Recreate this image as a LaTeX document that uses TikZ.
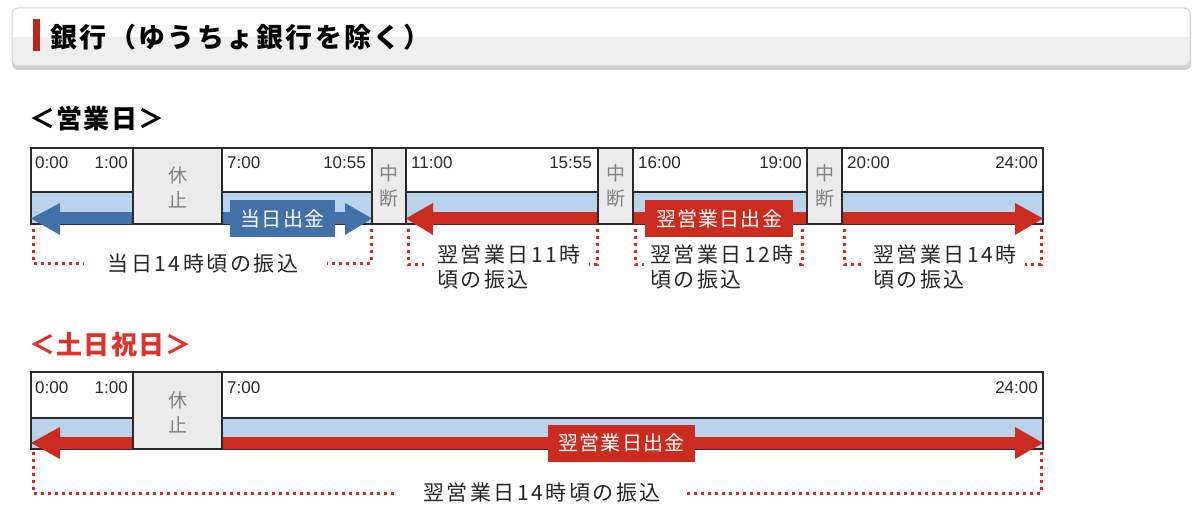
\documentclass[tikz,border=0pt]{standalone}
\usepackage{fontspec}
\setmainfont{Liberation Sans}
\newfontfamily\jp{Noto Sans CJK JP}
\newfontfamily\jpnote[LetterSpace=12]{Noto Sans CJK JP}
\newfontfamily\jplab[LetterSpace=6]{Noto Sans CJK JP}
\newfontfamily\jptitle[LetterSpace=9]{Noto Sans CJK JP}
\newfontfamily\jphead[LetterSpace=5]{Noto Sans CJK JP}
\definecolor{grayfill}{HTML}{EBEBEB}
\definecolor{bandblue}{HTML}{B8D3EB}
\definecolor{arrblue}{HTML}{4270A8}
\definecolor{arrred}{HTML}{CC2B1F}
\definecolor{dotred}{HTML}{D42A24}
\definecolor{headred}{HTML}{E0322A}
\definecolor{gridc}{HTML}{2A2A2A}
\definecolor{graytext}{HTML}{808080}
\begin{document}
\begin{tikzpicture}[x=1pt,y=-1pt,
  gridline/.style={draw=gridc,line width=1.3pt},
  gbox/.style={fill=grayfill,draw=gridc,line width=1.3pt},
  tm/.style={font=\fontsize{17}{17}\selectfont,inner sep=0pt,text=gridc},
  vlab/.style={font=\jp\fontsize{19}{25}\selectfont,text=graytext,align=center,inner sep=0pt},
  dots/.style={draw=dotred,line width=3pt,dash pattern=on 3pt off 4pt},
  note/.style={font=\jpnote\fontsize{21}{25}\selectfont,inner sep=0pt,text=black!85,align=left},
  lab/.style={font=\jplab\fontsize{20}{20}\selectfont,text=white,inner sep=0pt},
  sechead/.style={font=\jphead\bfseries\fontsize{26}{26}\selectfont,inner sep=0pt,anchor=west}]
\useasboundingbox (0,0) rectangle (1200,511);
\fill[white] (0,0) rectangle (1200,511);

% ---------- header box ----------
\fill[black!18,rounded corners=6pt] (12,11) rectangle (1191,70);
\fill[grayfill!80,rounded corners=6pt] (12,8) rectangle (1190,66);
\begin{scope}
  \clip[rounded corners=6pt] (12,8) rectangle (1190,66);
  \fill[white] (12,8) rectangle (1190,37);
\end{scope}
\draw[black!18,line width=1pt,rounded corners=6pt] (12,8) rectangle (1190,66);
\fill[arrred!90!black] (33,19) rectangle (40,51);
\node[font=\jptitle\bfseries\fontsize{27}{27}\selectfont,inner sep=0pt,anchor=west] (title) at (50,37) {銀行（ゆうちょ銀行を除く）};

% ---------- business day ----------
\node[sechead] (h1) at (29,119) {＜営業日＞};

\fill[white] (31,148) rectangle (1043,192);
\fill[bandblue] (31,192) rectangle (1043,224);
\draw[gridline] (31,148) rectangle (1043,224);
\draw[gridline] (31,192) -- (1043,192);

\fill[arrblue] (31,218.5) -- (60,203) -- (60,212) -- (345,212) -- (345,203) -- (372,218.5) -- (345,235) -- (345,224) -- (60,224) -- (60,235) -- cycle;
\fill[arrred] (406,218.5) -- (433,203) -- (433,212) -- (1015,212) -- (1015,203) -- (1043,218.5) -- (1015,235) -- (1015,224) -- (433,224) -- (433,235) -- cycle;

\draw[gbox] (133,148) rectangle (222,224);
\draw[gbox] (372,148) rectangle (406,224);
\draw[gbox] (598,148) rectangle (633,224);
\draw[gbox] (807,148) rectangle (842,224);
\node[vlab] (k1) at (177.5,187) {休\\止};
\node[vlab] (c1) at (389,186) {中\\断};
\node[vlab] (c2) at (615.5,186) {中\\断};
\node[vlab] (c3) at (824.5,186) {中\\断};

\node[fill=arrblue,minimum width=105pt,minimum height=37pt,inner sep=0pt] (lb1) at (282.5,218.5) {};
\node[lab] (lb1t) at (lb1.center) {当日出金};
\node[fill=arrred,minimum width=148pt,minimum height=37pt,inner sep=0pt] (lr1) at (719,218.5) {};
\node[lab] (lr1t) at (lr1.center) {翌営業日出金};

\node[tm,anchor=base west] (t0) at (35,168) {0:00};
\node[tm,anchor=base east] (t1) at (128,168) {1:00};
\node[tm,anchor=base west] (t7) at (227,168) {7:00};
\node[tm,anchor=base east] (t1055) at (366,168) {10:55};
\node[tm,anchor=base west] (t11) at (411,168) {11:00};
\node[tm,anchor=base east] (t1555) at (592,168) {15:55};
\node[tm,anchor=base west] (t16) at (638,168) {16:00};
\node[tm,anchor=base east] (t19) at (802,168) {19:00};
\node[tm,anchor=base west] (t20) at (847,168) {20:00};
\node[tm,anchor=base east] (t24) at (1038,168) {24:00};

% brackets
\draw[dots] (33,229) -- (33,263) -- (84,263);
\draw[dots] (371,229) -- (371,263) -- (327,263);
\node[note,anchor=center] (n1) at (203,264) {当日14時頃の振込};

\draw[dots] (408,229) -- (408,264) -- (424,264);
\draw[dots] (597,229) -- (597,264) -- (589,264);
\node[note,anchor=north west] (n2) at (437,245) {翌営業日11時\\頃の振込};

\draw[dots] (635,229) -- (635,264) -- (644,264);
\draw[dots] (802,229) -- (802,264) -- (795,264);
\node[note,anchor=north west] (n3) at (650,245) {翌営業日12時\\頃の振込};

\draw[dots] (844,229) -- (844,264) -- (863,264);
\draw[dots] (1041,229) -- (1041,264) -- (1025,264);
\node[note,anchor=north west] (n4) at (873,245) {翌営業日14時\\頃の振込};

% ---------- holidays ----------
\node[sechead,text=headred] (h2) at (29,345) {＜土日祝日＞};

\fill[white] (31,372) rectangle (1043,418);
\fill[bandblue] (31,418) rectangle (1043,449);
\draw[gridline] (31,372) rectangle (1043,449);
\draw[gridline] (31,418) -- (1043,418);

\fill[arrred] (31,443) -- (60,427) -- (60,437) -- (1015,437) -- (1015,427) -- (1043,443) -- (1015,459) -- (1015,449) -- (60,449) -- (60,459) -- cycle;

\draw[gbox] (133,372) rectangle (222,449);
\node[vlab] (k2) at (177.5,412) {休\\止};

\node[fill=arrred,minimum width=147pt,minimum height=37pt,inner sep=0pt] (lr2) at (621.5,443) {};
\node[lab] (lr2t) at (lr2.center) {翌営業日出金};

\node[tm,anchor=base west] (u0) at (35,393) {0:00};
\node[tm,anchor=base east] (u1) at (128,393) {1:00};
\node[tm,anchor=base west] (u7) at (227,393) {7:00};
\node[tm,anchor=base east] (u24) at (1038,393) {24:00};

\draw[dots] (33,452) -- (33,493) -- (394,493);
\draw[dots] (1041,452) -- (1041,493) -- (683,493);
\node[note,anchor=center] (n5) at (542,493) {翌営業日14時頃の振込};
\end{tikzpicture}
\end{document}
